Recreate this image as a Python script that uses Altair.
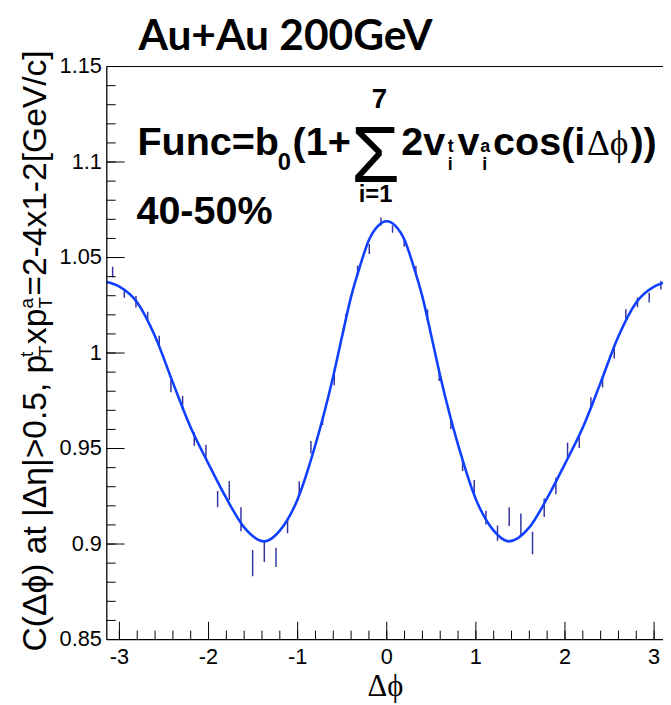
import altair as alt
import pandas as pd

# ---------------- data ----------------
dphi = [-3.076, -2.945, -2.814, -2.683, -2.553, -2.422, -2.291, -2.160, -2.029, -1.898, -1.767, -1.636,
        -1.505, -1.374, -1.243, -1.113, -0.982, -0.851, -0.720, -0.589, -0.458, -0.327, -0.196, -0.065,
        0.065, 0.196, 0.327, 0.458, 0.589, 0.720, 0.851, 0.982, 1.113, 1.243, 1.374, 1.505,
        1.636, 1.767, 1.898, 2.029, 2.160, 2.291, 2.422, 2.553, 2.683, 2.814, 2.945, 3.076]
corr = [1.0424, 1.0312, 1.0268, 1.0190, 1.0060, 0.9827, 0.9740, 0.9550, 0.9480, 0.9235, 0.9280, 0.9130,
        0.8900, 0.8962, 0.8930, 0.9091, 0.9294, 0.9507, 0.9645, 0.9861, 1.0190, 1.0432, 1.0545, 1.0688,
        1.0649, 1.0580, 1.0432, 1.0199, 0.9879, 0.9628, 0.9411, 0.9300, 0.9138, 0.9057, 0.9143, 0.9100,
        0.9005, 0.9190, 0.9304, 0.9489, 0.9536, 0.9740, 0.9850, 1.0000, 1.0199, 1.0265, 1.0290, 1.0355]
err = [0.0028, 0.0023, 0.0030, 0.0026, 0.0030, 0.0032, 0.0035, 0.0035, 0.0040, 0.0043, 0.0050, 0.0063,
       0.0069, 0.0056, 0.0050, 0.0035, 0.0035, 0.0033, 0.0022, 0.0030, 0.0017, 0.0026, 0.0026, 0.0022,
       0.0019, 0.0024, 0.0023, 0.0029, 0.0026, 0.0026, 0.0029, 0.0035, 0.0036, 0.0040, 0.0049, 0.0060,
       0.0059, 0.0048, 0.0043, 0.0042, 0.0033, 0.0029, 0.0030, 0.0029, 0.0030, 0.0025, 0.0026, 0.0022]

fit_x = [-3.1416, -3.0, -2.8, -2.6, -2.4, -2.2, -2.0, -1.8, -1.6, -1.37, -1.2, -1.0, -0.8, -0.7, -0.6,
         -0.5, -0.4, -0.3, -0.2, -0.1, 0.0, 0.1, 0.2, 0.3, 0.4, 0.5, 0.6, 0.7, 0.8, 1.0, 1.2, 1.37,
         1.6, 1.8, 2.0, 2.2, 2.4, 2.6, 2.8, 3.0, 3.1416]
fit_y = [1.0372, 1.0348, 1.0265, 1.0088, 0.9845, 0.9610, 0.9420, 0.9240, 0.9087, 0.9014, 0.9070, 0.9235,
         0.9520, 0.9690, 0.9880, 1.0090, 1.0295, 1.0455, 1.0592, 1.0665, 1.0690, 1.0665, 1.0592, 1.0455,
         1.0295, 1.0090, 0.9880, 0.9690, 0.9520, 0.9235, 0.9070, 0.9014, 0.9087, 0.9240, 0.9420, 0.9610,
         0.9845, 1.0088, 1.0265, 1.0348, 1.0372]

x_major = [-3, -2, -1, 0, 1, 2, 3]
x_labels = ["-3", "-2", "-1", "0", "1", "2", "3"]
x_minor = [round(-3.0 + 0.2 * i, 1) for i in range(31)]
y_major = [0.85, 0.9, 0.95, 1.0, 1.05, 1.1, 1.15]
y_labels = ["0.85", "0.9", "0.95", "1", "1.05", "1.1", "1.15"]
y_minor = [round(0.85 + 0.01 * i, 2) for i in range(31)]

# ---------------- layout ----------------
W, H = 563, 580
FONT = "Liberation Sans"
xs = alt.Scale(domain=[-3.1416, 3.10], nice=False, zero=False)
ys = alt.Scale(domain=[0.85, 1.15], nice=False, zero=False)

pts = pd.DataFrame({"x": dphi, "y": corr, "err": err})
pts["lo"] = pts["y"] - pts["err"]
pts["hi"] = pts["y"] + pts["err"]
fit = pd.DataFrame({"x": fit_x, "y": fit_y})
one = pd.DataFrame({"k": [0]})

errbars = alt.Chart(pts).mark_rule(color="#3535a0", strokeWidth=1.5, clip=True).encode(
    x=alt.X("x:Q", scale=xs, axis=None),
    y=alt.Y("lo:Q", scale=ys, axis=None),
    y2="hi:Q",
)

curve = alt.Chart(fit).mark_line(color="#1040ff", strokeWidth=2.6, interpolate="monotone", clip=True).encode(
    x=alt.X("x:Q", scale=xs, axis=None),
    y=alt.Y("y:Q", scale=ys, axis=None),
)

def xticks(vals, length):
    return alt.Chart(pd.DataFrame({"v": vals})).mark_rule(color="black", strokeWidth=1).encode(
        x=alt.X("v:Q", scale=xs, axis=None), y=alt.value(H), y2=alt.value(H - length))

def yticks(vals, length):
    return alt.Chart(pd.DataFrame({"v": vals})).mark_rule(color="black", strokeWidth=1).encode(
        y=alt.Y("v:Q", scale=ys, axis=None), x=alt.value(0), x2=alt.value(length))

frame_top = alt.Chart(one).mark_rule(color="black", strokeWidth=1).encode(
    x=alt.value(0), x2=alt.value(W), y=alt.value(0))
frame_bottom = alt.Chart(one).mark_rule(color="black", strokeWidth=1.3).encode(
    x=alt.value(0), x2=alt.value(W), y=alt.value(H))
frame_left = alt.Chart(one).mark_rule(color="black", strokeWidth=1.3).encode(
    x=alt.value(0), y=alt.value(0), y2=alt.value(H))

xlab = alt.Chart(pd.DataFrame({"v": x_major, "lab": x_labels})).mark_text(
    font=FONT, fontSize=22, color="black", align="center", baseline="top").encode(
    x=alt.X("v:Q", scale=xs, axis=None), y=alt.value(H + 8), text="lab:N")
ylab = alt.Chart(pd.DataFrame({"v": y_major, "lab": y_labels})).mark_text(
    font=FONT, fontSize=22, color="black", align="right", baseline="middle").encode(
    y=alt.Y("v:Q", scale=ys, axis=None), x=alt.value(-5), text="lab:N")

def txt(s, x, y, size, weight="bold", font=FONT, align="left", angle=0):
    return alt.Chart(one).mark_text(text=s, fontSize=size, fontWeight=weight, font=font,
                                    align=align, baseline="alphabetic", angle=angle, color="black").encode(
        x=alt.value(x), y=alt.value(y))

texts = [
    txt("Au+Au 200GeV", 32, -17, 43, font="Lato"),
    txt("Func=b", 31, 90, 40),
    txt("0", 173, 105, 24),
    txt("(1+", 188, 90, 40),
    txt("Σ", 272, 117, 80, weight="normal", align="center"),
    txt("7", 276, 42, 28, align="center"),
    txt("i=1", 272, 137, 24, align="center"),
    txt("2v", 298, 90, 40),
    txt("t", 345, 87, 18),
    txt("i", 345, 105, 18),
    txt("v", 355, 90, 40),
    txt("a", 378, 87, 18),
    txt("i", 380, 105, 18),
    txt("cos(i", 391, 90, 40),
    txt("Δϕ", 486, 90, 36, weight="normal", font="Liberation Serif"),
    txt("))", 530, 90, 40),
    txt("40-50%", 30, 159, 40),
    # x axis title
    txt("Δϕ", 282, 637, 31, weight="normal", font="Liberation Serif", align="center"),
    # y axis title (rotated), built from pieces for sub/superscripts
    txt("C(Δϕ) at |Δη|>0.5, p", -62, 592, 34, weight="normal", angle=270),
    txt("t", -75, 294, 19, weight="normal", angle=270),
    txt("T", -55, 294, 19, weight="normal", angle=270),
    txt("xp", -62, 281, 34, weight="normal", angle=270),
    txt("a", -75, 245, 19, weight="normal", angle=270),
    txt("T", -55, 245, 19, weight="normal", angle=270),
    txt("=2-4x1-2[GeV/c]", -62, 232, 34, weight="normal", angle=270),
]

chart = alt.layer(
    errbars, curve,
    xticks(x_minor, 9), xticks(x_major, 18),
    yticks(y_minor, 9), yticks(y_major, 18),
    frame_top, frame_bottom, frame_left, xlab, ylab, *texts,
).properties(
    width=W, height=H,
    autosize=alt.AutoSizeParams(type="none"),
    padding={"left": 100, "top": 55, "right": 0, "bottom": 60},
).configure_view(stroke=None)

chart.save("out.html", embed_options={"renderer": "svg", "actions": False})
